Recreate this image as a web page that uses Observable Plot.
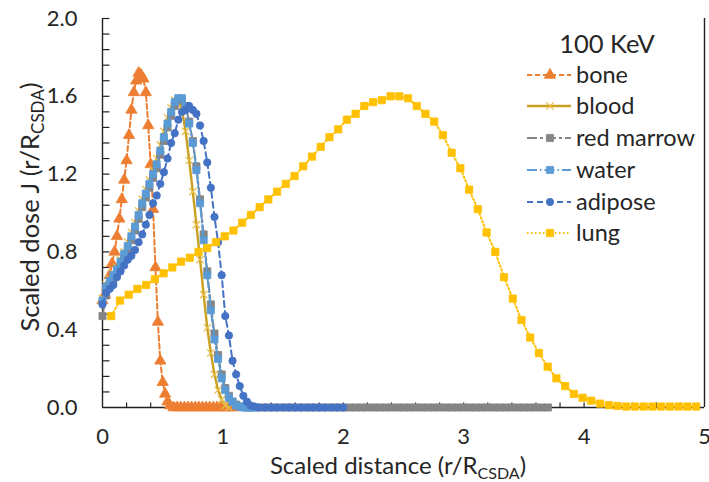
<!DOCTYPE html>
<html><head><meta charset="utf-8">
<script src="https://cdn.jsdelivr.net/npm/d3@7"></script>
<script src="https://cdn.jsdelivr.net/npm/@observablehq/plot@0.6"></script>
<style>html,body{margin:0;padding:0;background:#fff}svg{display:block}</style>
</head><body><div id="chart"></div>
<script>
// ---------- data ----------
const legendTitle = "100 KeV";
const seriesNames = ["bone", "blood", "red marrow", "water", "adipose", "lung"];
const xTickValues = [0, 1, 2, 3, 4, 5];
const yTickValues = [0, 0.4, 0.8, 1.2, 1.6, 2.0];
const xMinorTicks = [0.2,0.4,0.6,0.8,1,1.2,1.4,1.6,1.8,2,2.2,2.4,2.6,2.8,3,3.2,3.4,3.6,3.8,4,4.2,4.4,4.6,4.8];
const yMinorTicks = [0.08,0.16,0.24,0.32,0.4,0.48,0.56,0.64,0.72,0.8,0.88,0.96,1.04,1.12,1.2,1.28,1.36,1.44,1.52,1.6,1.68,1.76,1.84,1.92,2.0];

const boneX = [0,0.02,0.04,0.06,0.08,0.10,0.12,0.14,0.16,0.18,0.20,0.22,0.24,0.26,0.28,0.30,0.32,0.34,0.36,0.38,0.40,0.42,0.44,0.46,0.48,0.50,0.52,0.54,0.56,
  0.59,0.62,0.65,0.68,0.71,0.74,0.77,0.80,0.83,0.86,0.89,0.92,0.95,0.98,1.01,1.04,1.07,1.10];
const boneY = [0.55,0.58,0.62,0.68,0.74,0.80,0.88,0.97,1.07,1.17,1.27,1.40,1.53,1.62,1.68,1.72,1.71,1.69,1.62,1.45,1.25,1.02,0.72,0.44,0.24,0.13,0.07,0.03,0.01,
  0,0,0,0,0,0,0,0,0,0,0,0,0,0,0,0,0,0];

const bloodX = [0,0.03,0.06,0.09,0.12,0.15,0.18,0.21,0.24,0.27,0.30,0.33,0.36,0.39,0.42,0.45,0.48,0.51,0.54,0.57,0.60,0.63,0.66,0.69,0.72,0.75,0.78,0.81,0.84,0.87,0.90,0.93,0.96,0.99,1.02,1.05];
const bloodY = [0.56,0.63,0.66,0.69,0.72,0.76,0.80,0.85,0.90,0.95,1.01,1.07,1.12,1.17,1.22,1.28,1.35,1.42,1.49,1.54,1.58,1.59,1.53,1.42,1.27,1.11,0.94,0.76,0.58,0.41,0.28,0.17,0.09,0.04,0.01,0];

const marrowX = [0,0.03,0.06,0.09,0.12,0.15,0.18,0.21,0.24,0.27,0.30,0.33,0.36,0.39,0.42,0.45,0.48,0.51,0.54,0.57,0.60,0.63,0.66,0.69,0.72,0.75,0.78,0.81,0.84,0.87,0.90,0.93,0.96,0.99,1.02,1.05,1.08,1.11,1.14,
  1.20,1.25,1.30,1.35,1.40,1.45,1.50,1.55,1.60,1.65,1.70,1.75,1.80,1.85,1.90,1.95,2.00,2.05,2.10,2.15,2.20,2.25,2.30,2.35,2.40,2.45,2.50,2.55,2.60,2.65,2.70,2.75,2.80,2.85,2.90,2.95,3.00,3.05,3.10,3.15,3.20,3.25,3.30,3.35,3.40,3.45,3.50,3.55,3.60,3.65,3.70];
const marrowY = [0.47,0.58,0.63,0.66,0.69,0.73,0.77,0.81,0.86,0.91,0.97,1.03,1.08,1.13,1.18,1.23,1.30,1.37,1.44,1.50,1.55,1.58,1.58,1.55,1.47,1.37,1.24,1.07,0.89,0.70,0.53,0.38,0.27,0.17,0.10,0.06,0.03,0.015,0.005,
  0,0,0,0,0,0,0,0,0,0,0,0,0,0,0,0,0,0,0,0,0,0,0,0,0,0,0,0,0,0,0,0,0,0,0,0,0,0,0,0,0,0,0,0,0,0,0,0,0,0,0];

const waterX = [0,0.03,0.06,0.09,0.12,0.15,0.18,0.21,0.24,0.27,0.30,0.33,0.36,0.39,0.42,0.45,0.48,0.51,0.54,0.57,0.60,0.63,0.66,0.69,0.72,0.75,0.78,0.81,0.84,0.87,0.90,0.93,0.96,0.99,1.02,1.05,1.08,1.11,1.14,1.17,1.20,1.23,1.26];
const waterY = [0.55,0.62,0.65,0.68,0.71,0.75,0.79,0.83,0.88,0.93,0.99,1.05,1.10,1.15,1.20,1.25,1.32,1.39,1.46,1.52,1.57,1.59,1.59,1.55,1.46,1.36,1.22,1.05,0.86,0.68,0.50,0.35,0.25,0.15,0.09,0.05,0.03,0.01,0.005,0,0,0,0];

const adiposeX = [0,0.03,0.06,0.09,0.12,0.15,0.18,0.21,0.24,0.27,0.30,0.33,0.36,0.39,0.42,0.45,0.48,0.51,0.54,0.57,0.60,0.63,0.66,0.69,0.72,0.75,0.78,0.81,0.84,0.87,0.90,0.93,0.96,0.99,1.02,1.05,1.08,1.11,1.14,1.17,1.20,1.23,1.26,
  1.30,1.35,1.40,1.45,1.50,1.55,1.60,1.65,1.70,1.75,1.80,1.85,1.90,1.95,2.00];
const adiposeY = [0.53,0.59,0.61,0.63,0.67,0.70,0.73,0.76,0.78,0.81,0.85,0.89,0.94,0.99,1.05,1.09,1.15,1.21,1.28,1.36,1.41,1.48,1.52,1.53,1.55,1.53,1.51,1.45,1.37,1.26,1.13,0.98,0.85,0.68,0.47,0.37,0.24,0.17,0.11,0.06,0.03,0.01,0.005,
  0,0,0,0,0,0,0,0,0,0,0,0,0,0,0];

const lungX = [0.0725,0.145,0.2175,0.29,0.3625,0.435,0.5075,0.58,0.6525,0.725,0.7975,0.87,0.9425,1.015,1.0875,1.16,1.2325,1.305,1.3775,1.45,1.5225,1.595,1.6675,1.74,1.8125,1.885,1.9575,2.03,2.1025,2.175,2.2475,2.32,2.3925,2.465,2.5375,2.61,2.6825,2.755,2.8275,2.9,2.9725,3.045,3.1175,3.19,3.2625,3.335,3.4075,3.48,3.5525,3.625,3.6975,3.77,3.8425,3.915,3.9875,4.06,4.1325,4.205,4.2775,4.35,4.4225,4.495,4.5675,4.64,4.7125,4.785,4.8575,4.93];
const lungY = [0.47,0.55,0.58,0.61,0.63,0.66,0.69,0.72,0.75,0.77,0.80,0.82,0.85,0.88,0.91,0.95,0.99,1.03,1.07,1.11,1.15,1.19,1.24,1.29,1.34,1.39,1.43,1.48,1.51,1.55,1.57,1.58,1.60,1.60,1.59,1.55,1.51,1.47,1.40,1.31,1.23,1.12,1.02,0.90,0.80,0.67,0.56,0.45,0.36,0.28,0.21,0.15,0.11,0.07,0.05,0.035,0.02,0.012,0.008,0.005,0.005,0.005,0.005,0.005,0.005,0.005,0.005,0.005];

// ---------- styles ----------
const styles = [
  {name: seriesNames[0], xs: boneX, ys: boneY, color: "#ED7D31", dash: "5,3", width: 2, symbol: "triangle", r: 4.2, fill: true},
  {name: seriesNames[1], xs: bloodX, ys: bloodY, color: "#C9A020", dash: null, width: 2.4, symbol: "times", r: 3.4, fill: false, markColor: "#E6BE4A"},
  {name: seriesNames[2], xs: marrowX, ys: marrowY, color: "#858585", dash: "10,3,3,3", width: 2, symbol: "square", r: 4, fill: true},
  {name: seriesNames[3], xs: waterX, ys: waterY, color: "#5B9BD5", dash: "10,3,1.5,3", width: 2, symbol: "square", r: 4, fill: true},
  {name: seriesNames[4], xs: adiposeX, ys: adiposeY, color: "#4472C4", dash: "6,4", width: 2, symbol: "circle", r: 3.7, fill: true},
  {name: seriesNames[5], xs: lungX, ys: lungY, color: "#FFC000", dash: "1.5,2.5", width: 2, symbol: "square", r: 4.1, fill: true}
];

const FONT = "Lato, 'Open Sans', sans-serif";
const TEXT = "#262626";
const AXIS = "#222";

// custom tick-mark symbols (short segments pointing into the plot)
const upTick = {draw(ctx) { ctx.moveTo(0, 0); ctx.lineTo(0, -5); }};
const rightTick = {draw(ctx) { ctx.moveTo(0, 0); ctx.lineTo(7, 0); }};

const marks = [];
marks.push(Plot.axisX({ticks: xTickValues, tickSize: 0, tickPadding: 21, fontSize: 22, label: null, tickFormat: d => String(d), fill: TEXT}));
marks.push(Plot.axisY({ticks: yTickValues, tickSize: 0, tickPadding: 25, fontSize: 22, label: null, tickFormat: d3.format(".1f"), fill: TEXT}));
// minor inner ticks
marks.push(Plot.dot(xMinorTicks, {x: d => d, y: 0, symbol: upTick, fill: "none", stroke: AXIS, strokeWidth: 1.2}));
marks.push(Plot.dot(yMinorTicks, {x: 0, y: d => d, symbol: rightTick, fill: "none", stroke: AXIS, strokeWidth: 1.2}));
// frame lines
marks.push(Plot.ruleX([0], {stroke: AXIS, strokeWidth: 1.4}));
marks.push(Plot.ruleY([0], {stroke: AXIS, strokeWidth: 1.4}));
marks.push(Plot.ruleX([5], {stroke: AXIS, strokeWidth: 1.4}));

for (const s of styles) {
  const rows = s.xs.map((x, i) => ({x, y: s.ys[i]}));
  marks.push(Plot.line(rows, {x: "x", y: "y", stroke: s.color, strokeWidth: s.width, strokeDasharray: s.dash}));
  if (s.fill) {
    marks.push(Plot.dot(rows, {x: "x", y: "y", symbol: s.symbol, r: s.r, fill: s.color, stroke: s.color, strokeWidth: 0.8}));
  } else {
    marks.push(Plot.dot(rows, {x: "x", y: "y", symbol: s.symbol, r: s.r, fill: "none", stroke: s.markColor, strokeWidth: 1.3}));
  }
}

const chart = Plot.plot({
  width: 709, height: 482,
  marginLeft: 102, marginRight: 5, marginTop: 18, marginBottom: 75,
  x: {domain: [0, 5]},
  y: {domain: [0, 2]},
  style: {fontFamily: FONT, background: "#fff", overflow: "visible"},
  marks
});

const svg = d3.select(chart);

// axis titles with subscripts
const xt = svg.append("text").attr("x", 398).attr("y", 474).attr("text-anchor", "middle")
  .attr("font-family", FONT).attr("font-size", 24).attr("fill", TEXT);
xt.append("tspan").text("Scaled distance (r/R");
xt.append("tspan").attr("font-size", 16).attr("dy", 5).text("CSDA");
xt.append("tspan").attr("dy", -5).text(")");

const yt = svg.append("text").attr("transform", "translate(39,207) rotate(-90)").attr("text-anchor", "middle")
  .attr("font-family", FONT).attr("font-size", 25.5).attr("fill", TEXT);
yt.append("tspan").text("Scaled dose J (r/R");
yt.append("tspan").attr("font-size", 17).attr("dy", 5).text("CSDA");
yt.append("tspan").attr("dy", -5).text(")");

// legend
const lg = svg.append("g").attr("font-family", FONT).attr("fill", TEXT).attr("text-anchor", "start");
lg.append("text").attr("x", 607).attr("y", 44).attr("dy", "0.36em").attr("text-anchor", "middle").attr("font-size", 25.5).text(legendTitle);
const symMap = {triangle: d3.symbolTriangle, times: d3.symbolTimes, square: d3.symbolSquare, circle: d3.symbolCircle};
const legendY = [75, 106, 138, 170, 202, 233];
styles.forEach((s, i) => {
  const y = legendY[i];
  const g = lg.append("g");
  g.append("line").attr("x1", 527).attr("x2", 571).attr("y1", y).attr("y2", y)
    .attr("stroke", s.color).attr("stroke-width", s.width).attr("stroke-dasharray", s.dash);
  const path = d3.symbol(symMap[s.symbol], Math.PI * s.r * s.r)();
  g.append("path").attr("d", path).attr("transform", `translate(550,${y})`)
    .attr("fill", s.fill ? s.color : "none").attr("stroke", s.fill ? s.color : s.markColor).attr("stroke-width", s.fill ? 0.8 : 1.3);
  g.append("text").attr("x", 576).attr("y", y).attr("dy", "0.36em").attr("text-anchor", "start").attr("font-size", 23.5).text(s.name);
});

document.getElementById("chart").appendChild(chart);
</script>
</body></html>
